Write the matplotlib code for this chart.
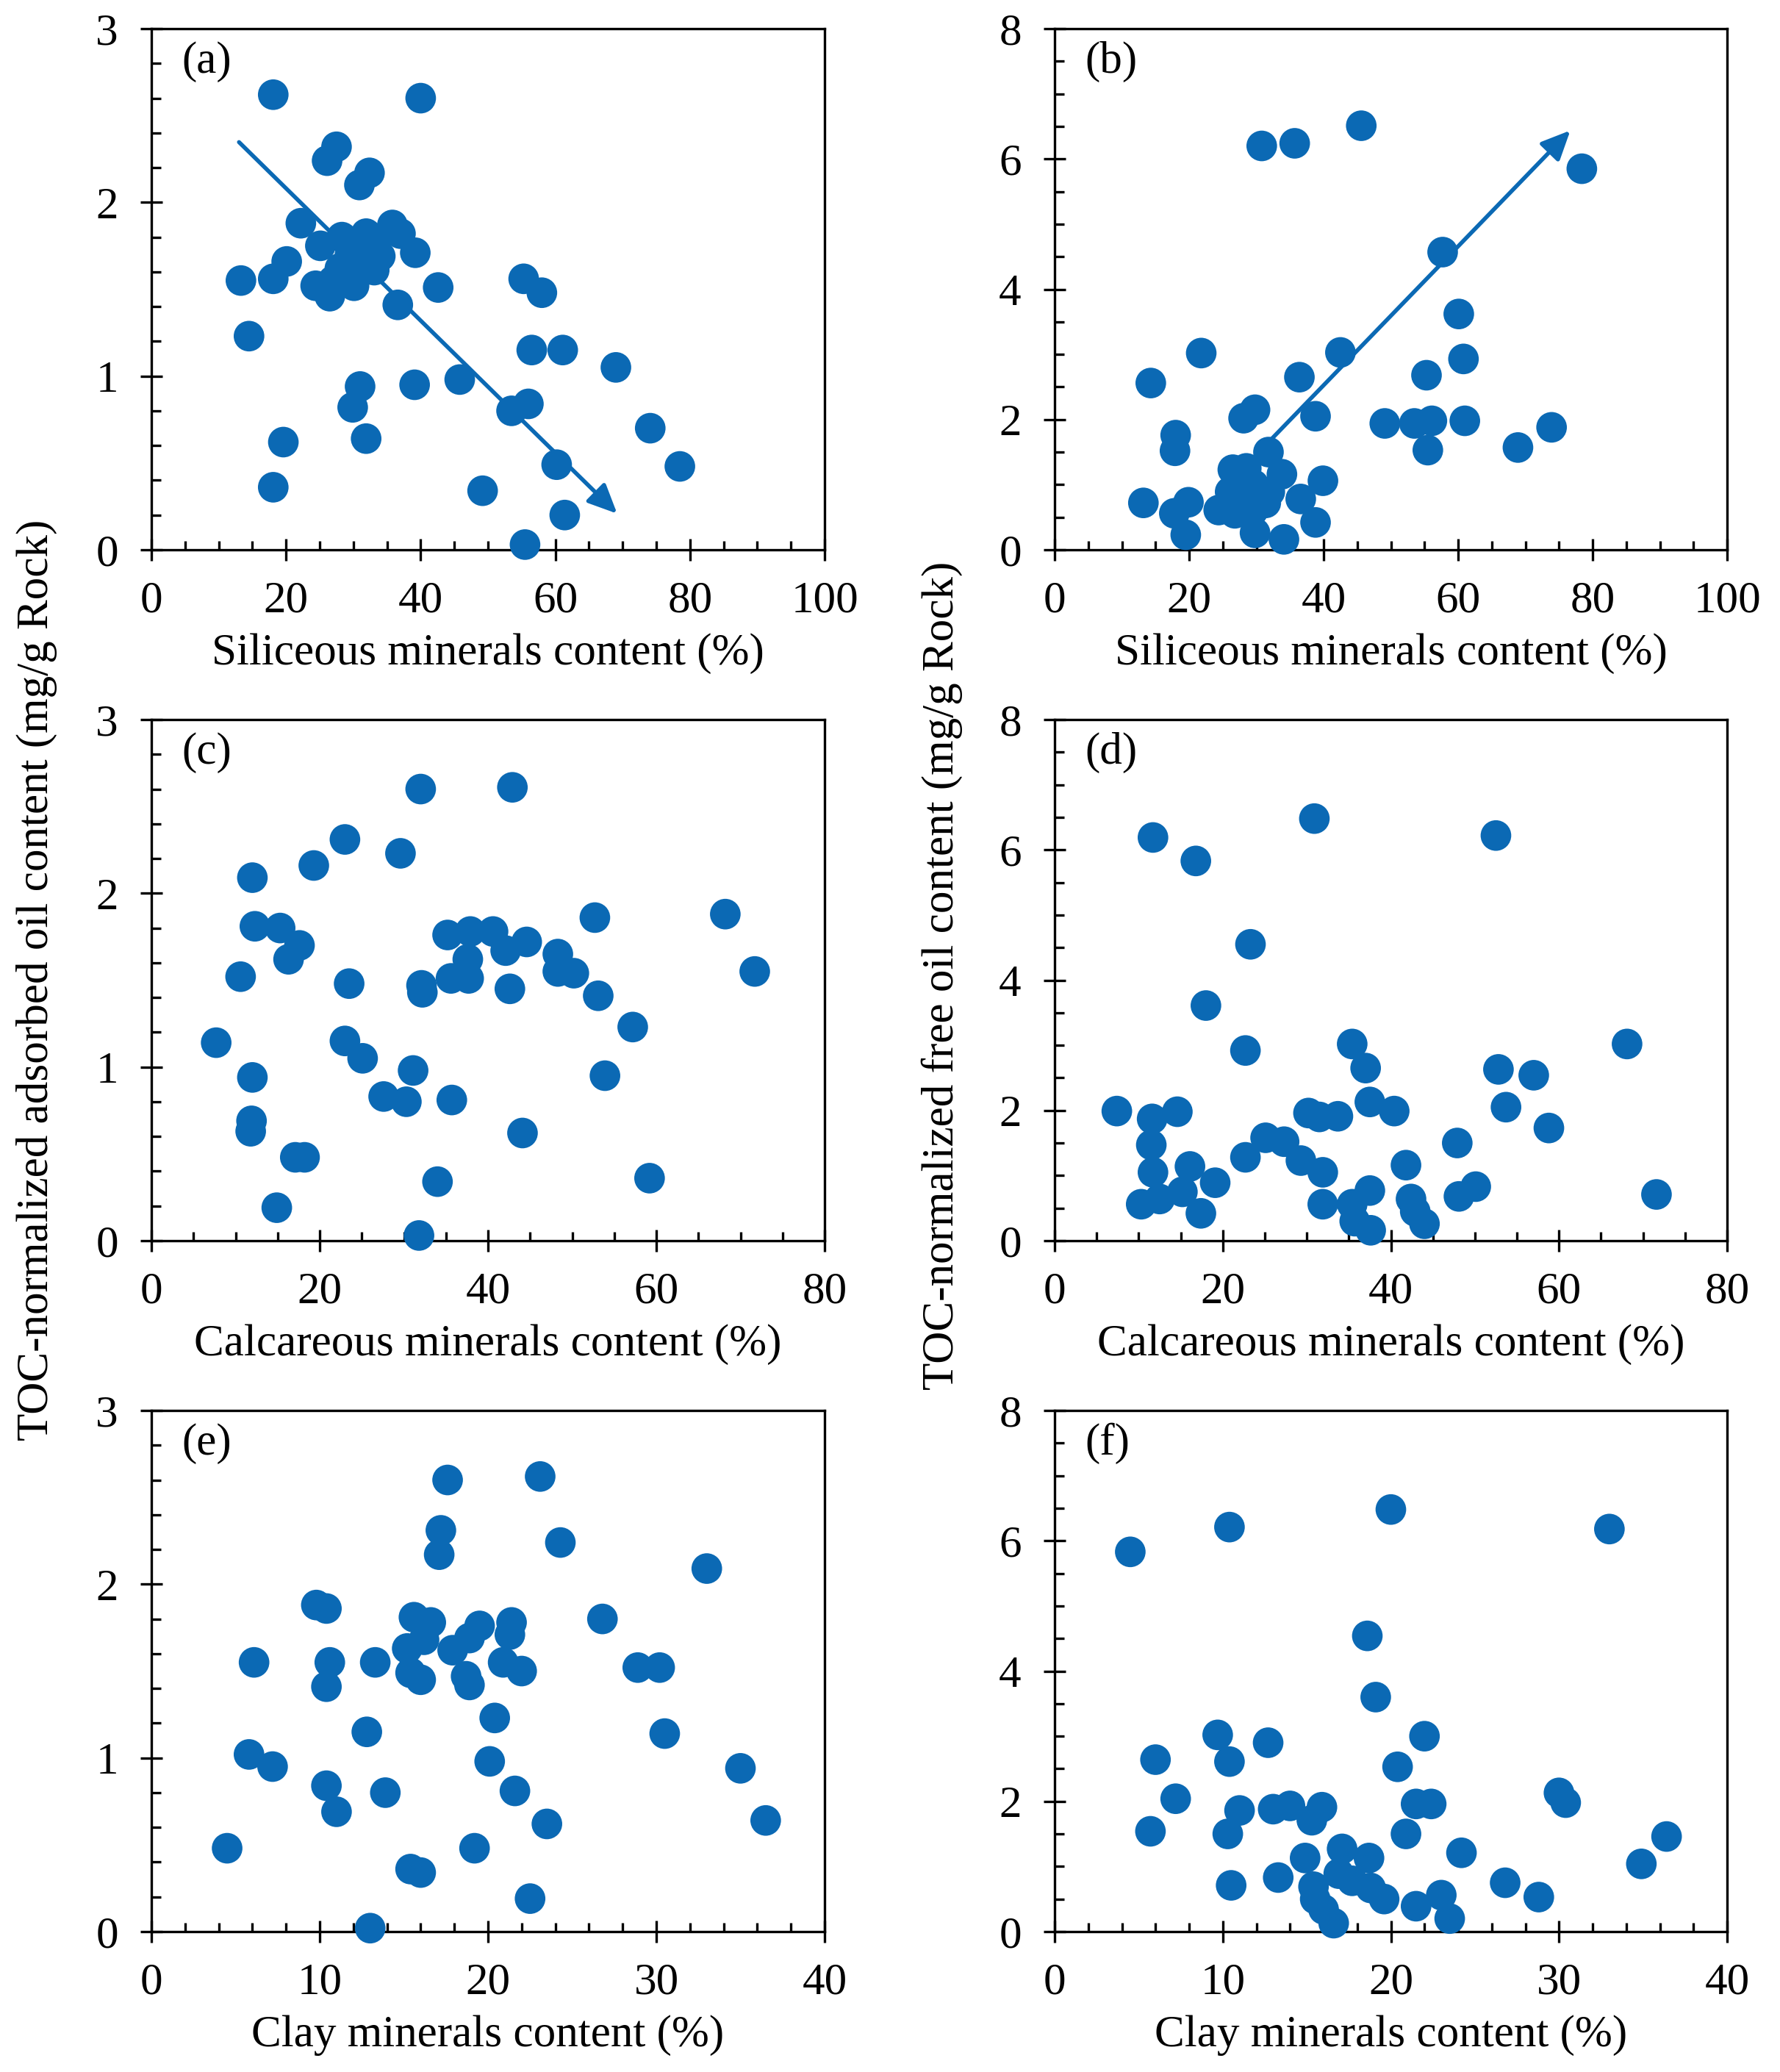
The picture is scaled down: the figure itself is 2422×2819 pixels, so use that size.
import matplotlib
matplotlib.use('Agg')
import matplotlib.pyplot as plt
from matplotlib.ticker import MultipleLocator
from matplotlib.patches import FancyArrowPatch

plt.rcParams['font.family'] = ['Liberation Serif', 'DejaVu Serif']
plt.rcParams['font.size'] = 44

blue = '#0B69B4'

# (a) siliceous vs adsorbed
si_a = [18.1, 40.0, 27.5, 26.1, 32.4, 30.9, 22.2, 35.8, 37.0, 25.1, 28.3, 31.9, 39.2, 20.1,
        18.1, 13.3, 24.4, 26.5, 30.1, 33.1, 34.0, 36.6, 42.6, 55.3, 58.0, 14.5, 56.5, 61.1,
        69.0, 31.0, 39.1, 45.8, 29.9, 56.0, 53.5, 19.6, 31.9, 74.1, 78.5, 60.2, 18.1, 49.2,
        61.4, 55.5, 28.0, 29.5, 31.5, 33.5, 27.0, 30.5]
ads_a = [2.62, 2.60, 2.32, 2.24, 2.17, 2.10, 1.88, 1.87, 1.82, 1.75, 1.80, 1.82, 1.71, 1.66,
         1.56, 1.55, 1.52, 1.46, 1.52, 1.61, 1.69, 1.41, 1.51, 1.56, 1.48, 1.23, 1.15, 1.15,
         1.05, 0.94, 0.95, 0.98, 0.82, 0.84, 0.80, 0.62, 0.64, 0.70, 0.48, 0.49, 0.36, 0.34,
         0.20, 0.03, 1.62, 1.70, 1.68, 1.78, 1.55, 1.60]

# (b) siliceous vs free
si_b = [30.8, 35.7, 45.6, 78.4, 57.7, 60.1, 60.8, 42.5, 21.8, 55.3, 36.4, 14.3, 29.8, 28.1,
        38.8, 49.1, 53.5, 56.1, 61.0, 73.9, 68.9, 55.5, 18.0, 17.9, 31.8, 26.5, 33.8, 39.9,
        13.2, 19.9, 17.8, 24.4, 36.6, 38.8, 19.5, 29.8, 34.1, 26.1, 31.4, 29.6, 32.0, 26.8,
        28.5, 29.5, 27.5]
free_b = [6.20, 6.24, 6.51, 5.85, 4.57, 3.62, 2.93, 3.03, 3.02, 2.68, 2.65, 2.56, 2.15, 2.02,
          2.05, 1.94, 1.94, 1.98, 1.98, 1.88, 1.57, 1.53, 1.76, 1.52, 1.50, 1.23, 1.16, 1.06,
          0.72, 0.73, 0.56, 0.61, 0.78, 0.42, 0.23, 0.26, 0.16, 0.89, 0.72, 1.00, 0.89, 0.56,
          1.25, 0.60, 0.75]

# (c) calcareous vs adsorbed
cal_c = [32.0, 42.9, 23.0, 29.6, 19.3, 12.0, 68.2, 52.7, 12.3, 15.3, 17.6, 16.3, 35.2, 37.9,
         40.6, 42.1, 44.6, 37.6, 48.3, 50.2, 48.3, 10.6, 71.7, 23.5, 32.1, 32.2, 35.6, 37.7,
         42.6, 53.1, 57.2, 7.7, 23.0, 25.1, 12.0, 31.1, 53.9, 27.6, 30.3, 35.7, 11.9, 11.8,
         44.1, 17.1, 18.2, 34.0, 59.2, 14.9, 31.8]
ads_c = [2.60, 2.61, 2.31, 2.23, 2.16, 2.09, 1.88, 1.86, 1.81, 1.80, 1.70, 1.62, 1.76, 1.78,
         1.78, 1.67, 1.72, 1.62, 1.65, 1.54, 1.55, 1.52, 1.55, 1.48, 1.47, 1.43, 1.51, 1.51,
         1.45, 1.41, 1.23, 1.14, 1.15, 1.05, 0.94, 0.98, 0.95, 0.83, 0.80, 0.81, 0.69, 0.63,
         0.62, 0.48, 0.48, 0.34, 0.36, 0.19, 0.03]

# (d) calcareous vs free
cal_d = [11.7, 16.8, 30.9, 52.5, 23.3, 18.0, 22.7, 35.4, 68.1, 37.0, 52.8, 57.0, 7.4, 14.6,
         11.6, 30.2, 31.5, 33.7, 37.5, 40.4, 53.7, 58.8, 11.5, 25.1, 27.3, 47.9, 22.7, 29.3,
         16.1, 31.9, 41.8, 11.7, 19.1, 15.2, 37.5, 50.1, 48.1, 71.6, 10.3, 12.5, 17.4, 31.9,
         35.4, 42.4, 42.9, 35.7, 37.6, 44.0]
free_d = [6.19, 5.83, 6.48, 6.22, 4.55, 3.61, 2.92, 3.02, 3.02, 2.65, 2.63, 2.54, 1.99, 1.98,
          1.87, 1.96, 1.90, 1.91, 2.13, 1.99, 2.05, 1.73, 1.47, 1.58, 1.52, 1.50, 1.28, 1.23,
          1.14, 1.05, 1.16, 1.05, 0.89, 0.75, 0.77, 0.83, 0.68, 0.71, 0.56, 0.64, 0.42, 0.56,
          0.56, 0.64, 0.45, 0.30, 0.16, 0.26]

# (e) clay vs adsorbed
clay_e = [17.6, 23.1, 17.2, 17.1, 24.3, 33.0, 9.8, 10.4, 26.8, 15.6, 16.6, 19.5, 21.4, 18.9,
          21.3, 15.2, 17.9, 6.1, 10.6, 13.3, 20.9, 22.0, 28.9, 30.2, 15.4, 16.0, 18.7, 18.9,
          10.4, 20.4, 12.8, 30.5, 5.8, 7.2, 20.1, 35.0, 10.4, 13.9, 21.6, 11.0, 23.5, 36.5,
          4.5, 19.2, 15.4, 16.0, 22.5, 13.0, 16.2]
ads_e = [2.60, 2.62, 2.31, 2.17, 2.24, 2.09, 1.88, 1.86, 1.80, 1.81, 1.78, 1.76, 1.78, 1.69,
         1.71, 1.63, 1.62, 1.55, 1.55, 1.55, 1.55, 1.50, 1.52, 1.52, 1.49, 1.45, 1.47, 1.42,
         1.41, 1.23, 1.15, 1.14, 1.02, 0.95, 0.98, 0.94, 0.84, 0.80, 0.81, 0.69, 0.62, 0.64,
         0.48, 0.48, 0.36, 0.34, 0.19, 0.02, 1.68]

# (f) clay vs free
clay_f = [4.5, 10.4, 20.0, 33.0, 18.6, 19.1, 9.7, 12.7, 22.0, 6.0, 10.4, 20.4, 7.2, 30.0,
          30.4, 11.0, 13.0, 14.0, 15.9, 15.3, 21.5, 22.4, 5.7, 10.3, 20.9, 36.4, 24.2, 17.1,
          14.9, 18.7, 34.9, 10.5, 13.3, 16.9, 26.8, 15.4, 18.8, 19.6, 17.7, 23.0, 21.5, 28.8,
          15.5, 16.0, 16.6, 23.5]
free_f = [5.83, 6.21, 6.48, 6.18, 4.54, 3.60, 3.02, 2.90, 3.00, 2.64, 2.61, 2.53, 2.04, 2.13,
          1.98, 1.86, 1.88, 1.93, 1.91, 1.71, 1.96, 1.96, 1.54, 1.50, 1.50, 1.46, 1.21, 1.27,
          1.13, 1.13, 1.04, 0.71, 0.83, 0.89, 0.75, 0.69, 0.67, 0.50, 0.78, 0.56, 0.39, 0.53,
          0.50, 0.34, 0.13, 0.20]

# trend arrows (start, end) in data units
arrow_a = [(12.8, 2.355), (69.4, 0.20)]
arrow_b = [(28.5, 1.30), (76.9, 6.46)]

panels = [
    ('(a)', si_a, ads_a, 100, 20, 5, 3, 1, 0.2, 'Siliceous minerals content (%)', arrow_a),
    ('(b)', si_b, free_b, 100, 20, 5, 8, 2, 0.5, 'Siliceous minerals content (%)', arrow_b),
    ('(c)', cal_c, ads_c, 80, 20, 5, 3, 1, 0.2, 'Calcareous minerals content (%)', None),
    ('(d)', cal_d, free_d, 80, 20, 5, 8, 2, 0.5, 'Calcareous minerals content (%)', None),
    ('(e)', clay_e, ads_e, 40, 10, 2, 3, 1, 0.2, 'Clay minerals content (%)', None),
    ('(f)', clay_f, free_f, 40, 10, 2, 8, 2, 0.5, 'Clay minerals content (%)', None),
]

W, H = 2422, 2819
fig = plt.figure(figsize=(W / 100, H / 100), dpi=100)

lefts = [206, 1435]
widths = [916, 915]
tops = [39, 979, 1919]
ax_h = 709

for i, (lab, xs, ys, xmax, xmaj, xmin, ymax, ymaj, ymin, xlabel, arr) in enumerate(panels):
    r, c = i // 2, i % 2
    ax = fig.add_axes([lefts[c] / W, 1 - (tops[r] + ax_h) / H, widths[c] / W, ax_h / H])
    ax.set_xlim(0, xmax)
    ax.set_ylim(0, ymax)
    ax.xaxis.set_major_locator(MultipleLocator(xmaj))
    ax.xaxis.set_minor_locator(MultipleLocator(xmin))
    ax.yaxis.set_major_locator(MultipleLocator(ymaj))
    ax.yaxis.set_minor_locator(MultipleLocator(ymin))
    for s in ax.spines.values():
        s.set_linewidth(2.4)
        s.set_color('black')
    ax.tick_params(which='major', direction='inout', length=21, width=2.4, labelsize=44)
    ax.tick_params(which='minor', direction='in', length=9, width=2.4)
    ax.tick_params(axis='x', which='major', pad=20)
    ax.tick_params(axis='y', which='major', pad=22)
    if arr is not None:
        ap = FancyArrowPatch(arr[0], arr[1], arrowstyle='-|>,head_length=24,head_width=11',
                             mutation_scale=1, color=blue, lw=4, zorder=2)
        ax.add_patch(ap)
    ax.scatter(xs, ys, s=900, color=blue, edgecolors='none', zorder=3, clip_on=False)
    ax.set_xlabel(xlabel, fontsize=44, labelpad=11)
    ax.text(0.045, 0.937, lab, transform=ax.transAxes, fontsize=44, ha='left', va='center')

fig.text(50 / W, 1 - 1333 / H, 'TOC-normalized adsorbed oil content (mg/g Rock)',
         rotation=90, ha='center', va='center', fontsize=44)
fig.text(1282 / W, 1 - 1327 / H, 'TOC-normalized free oil content (mg/g Rock)',
         rotation=90, ha='center', va='center', fontsize=44)

fig.savefig('out.png', dpi=100, facecolor='white')
